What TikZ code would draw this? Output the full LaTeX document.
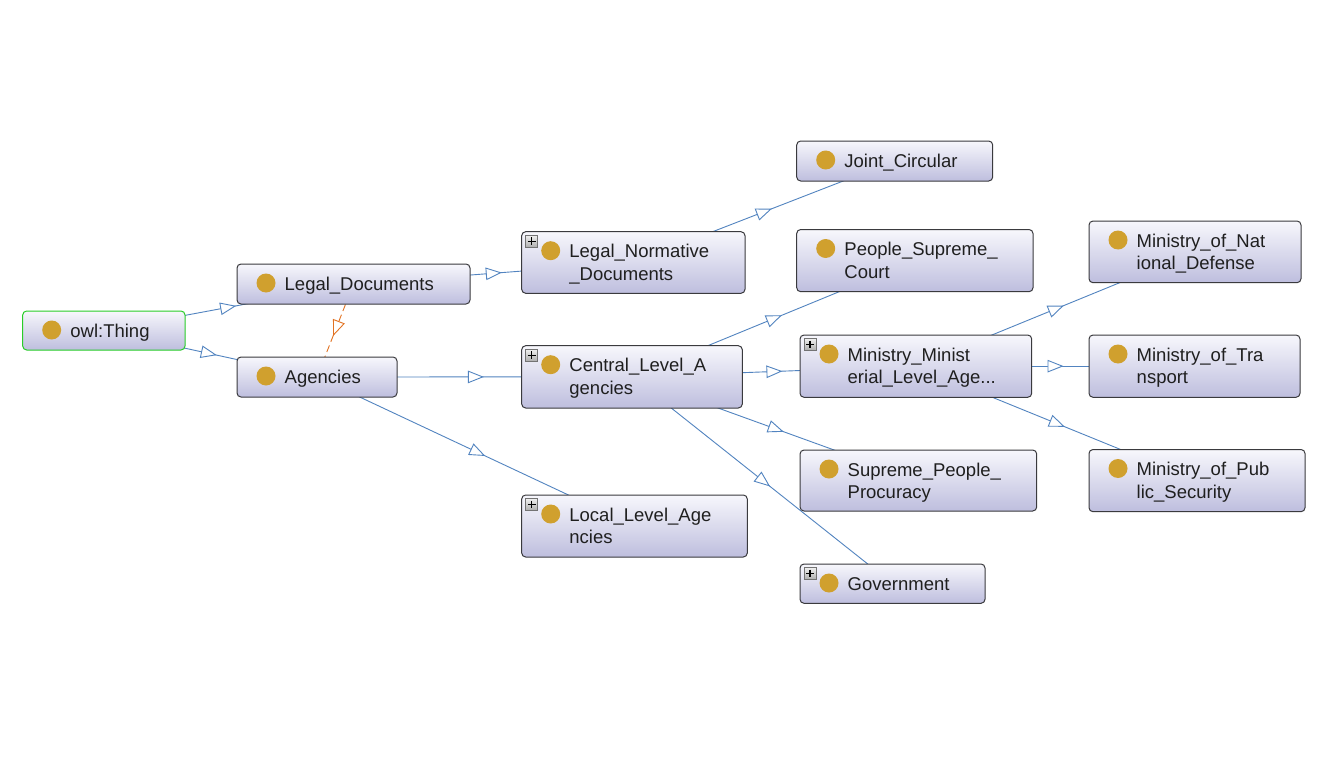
\documentclass[tikz,border=0pt]{standalone}
\usepackage{fontspec}
\setmainfont{Liberation Sans}
\usetikzlibrary{arrows.meta,decorations.markings,calc,backgrounds}
\definecolor{edgeblue}{RGB}{82,132,192}
\definecolor{dashorange}{RGB}{226,114,34}
\definecolor{boxtop}{RGB}{247,247,252}
\definecolor{boxbot}{RGB}{190,190,222}
\definecolor{boxline}{RGB}{58,58,62}
\definecolor{thinggreen}{RGB}{40,205,40}
\definecolor{dotgold}{RGB}{208,160,46}
\tikzset{
  clsbox/.style={rectangle, rounded corners=4pt, draw=boxline, line width=1pt,
    top color=boxtop, bottom color=boxbot, inner sep=0pt},
  classdot/.style={circle, fill=dotgold, minimum size=19pt, inner sep=0pt},
  lbl/.style={anchor=base west, inner sep=0pt,
    font=\fontsize{18.5}{22.5}\selectfont, text=black!88},
  plusbox/.style={rectangle, draw=black!55, line width=0.6pt,
    top color=black!6, bottom color=black!32, minimum size=12pt, inner sep=0pt},
  plusline/.style={draw=black, line width=1.3pt},
  isa/.style={draw=edgeblue, line width=0.9pt, postaction={decorate},
    decoration={markings, mark=at position #1 with
      {\arrow{Triangle[length=16pt,width=12.5pt,fill=white,line width=0.9pt]}}}},
  isa/.default=0.53,
  disj/.style={draw=dashorange, line width=0.9pt, dash pattern=on 7pt off 4pt,
    postaction={decorate},
    decoration={markings, mark=at position #1 with
      {\arrow{Triangle[length=16pt,width=12.5pt,fill=white,line width=0.9pt]}}}},
  disj/.default=0.56
}
% one-line class box: name, left, top, right, bottom, extra style, text
\newcommand\clsi[7]{%
  \node[clsbox,#6,minimum width={(#4-#2)*1pt},minimum height={(#5-#3)*1pt}]
    (#1) at ({(#2+#4)/2},{(#3+#5)/2}) {};
  \node[classdot] (#1-dot) at ($(#1.north west)+(29.5,19.5)$) {};
  \node[lbl] (#1-l1) at ($(#1.north west)+(48,26.5)$) {#7};
}
% two-line class box
\newcommand\clsii[8]{%
  \clsi{#1}{#2}{#3}{#4}{#5}{#6}{#7}%
  \node[lbl] (#1-l2) at ($(#1.north west)+(48,49)$) {#8};
}
% expand icon
\newcommand\expandicon[1]{%
  \node[plusbox] (#1-plus) at ($(#1.north west)+(10.5,10)$) {};
  \draw[plusline] ($(#1-plus.center)+(-3.8,0)$) -- ($(#1-plus.center)+(3.8,0)$);
  \draw[plusline] ($(#1-plus.center)+(0,-3.8)$) -- ($(#1-plus.center)+(0,3.8)$);
}
\begin{document}
\begin{tikzpicture}[x=1pt,y=-1pt]
\useasboundingbox (0,0) rectangle (1327,757);

\clsi{thing}{22.7}{311}{185}{350}{draw=thinggreen}{owl:Thing}
\clsi{legal}{237}{264}{470}{304}{}{Legal\_Documents}
\clsi{agencies}{237}{357}{397}{397}{}{Agencies}
\clsii{lnd}{521.7}{231.7}{745}{293.3}{}{Legal\_Normative}{\_Documents}
\expandicon{lnd}
\clsii{central}{521.7}{345.7}{742.3}{408}{}{Central\_Level\_A}{gencies}
\expandicon{central}
\clsii{local}{521.7}{495}{747.3}{557}{}{Local\_Level\_Age}{ncies}
\expandicon{local}
\clsi{joint}{796.7}{141}{992.7}{181}{}{Joint\_Circular}
\clsii{psc}{796.7}{229.5}{1033}{291.7}{}{People\_Supreme\_}{Court}
\clsii{mml}{800}{335}{1031.7}{397.3}{}{Ministry\_Minist}{erial\_Level\_Age...}
\expandicon{mml}
\clsii{spp}{800}{450}{1036.7}{511}{}{Supreme\_People\_}{Procuracy}
\clsi{gov}{800}{564}{985}{603.3}{}{Government}
\expandicon{gov}
\clsii{mond}{1089}{221}{1301}{282.7}{}{Ministry\_of\_Nat}{ional\_Defense}
\clsii{mot}{1089}{335}{1300}{397.3}{}{Ministry\_of\_Tra}{nsport}
\clsii{mops}{1089}{449.5}{1305}{511.7}{}{Ministry\_of\_Pub}{lic\_Security}

\begin{pgfonlayer}{background}
  \fill[white] (0,0) rectangle (1327,757);
  \draw[isa] (thing.center) -- (legal.center);
  \draw[isa] (thing.center) -- (agencies.center);
  \draw[isa] (legal.center) -- (lnd.center);
  \draw[isa] (lnd.center) -- (joint.center);
  \draw[isa] (agencies.center) -- (central.center);
  \draw[isa] (agencies.center) -- (local.center);
  \draw[isa] (central.center) -- (psc.center);
  \draw[isa] (central.center) -- (mml.center);
  \draw[isa] (central.center) -- (spp.center);
  \draw[isa] (central.center) -- (gov.center);
  \draw[isa] (mml.center) -- (mond.center);
  \draw[isa] (mml.center) -- (mot.center);
  \draw[isa] (mml.center) -- (mops.center);
  \draw[disj] (legal.center) -- (agencies.center);
\end{pgfonlayer}
\end{tikzpicture}
\end{document}
